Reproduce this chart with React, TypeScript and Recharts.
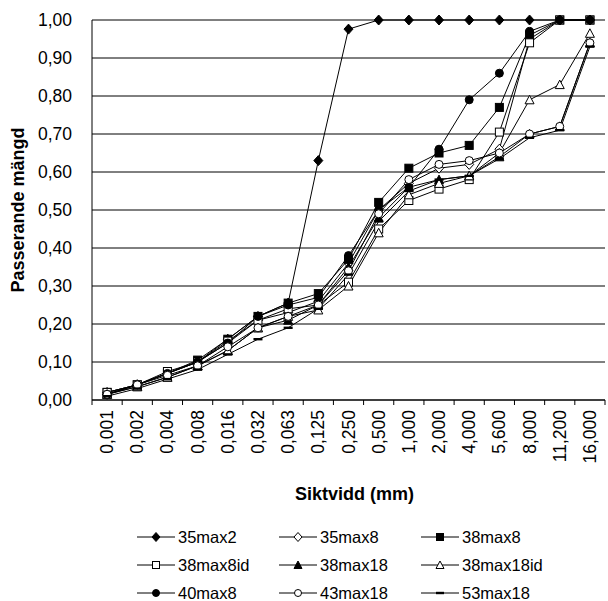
import { CartesianGrid, Label, Legend, Line, LineChart, XAxis, YAxis } from 'recharts';

const categories = [
  '0,001', '0,002', '0,004', '0,008', '0,016', '0,032', '0,063', '0,125', '0,250',
  '0,500', '1,000', '2,000', '4,000', '5,600', '8,000', '11,200', '16,000',
];
const yTicks = [0, 0.1, 0.2, 0.3, 0.4, 0.5, 0.6, 0.7, 0.8, 0.9, 1];

const s35max2 = [0.015, 0.04, 0.07, 0.1, 0.16, 0.22, 0.255, 0.63, 0.976, 1, 1, 1, 1, 1, 1, 1, 1];
const s35max8 = [0.02, 0.04, 0.07, 0.1, 0.15, 0.21, 0.23, 0.26, 0.36, 0.5, 0.57, 0.61, 0.62, 0.66, 0.95, 1, 1];
const s38max8 = [0.02, 0.04, 0.07, 0.105, 0.16, 0.22, 0.255, 0.28, 0.37, 0.52, 0.61, 0.65, 0.67, 0.77, 0.96, 1, 1];
const s38max8id = [0.02, 0.04, 0.075, 0.1, 0.155, 0.21, 0.24, 0.25, 0.31, 0.45, 0.525, 0.555, 0.58, 0.705, 0.94, 1, 1];
const s38max18 = [0.015, 0.035, 0.06, 0.09, 0.13, 0.19, 0.21, 0.25, 0.35, 0.48, 0.56, 0.58, 0.59, 0.64, 0.7, 0.72, 0.94];
const s38max18id = [0.015, 0.035, 0.06, 0.09, 0.13, 0.19, 0.22, 0.237, 0.3, 0.44, 0.54, 0.57, 0.59, 0.65, 0.79, 0.83, 0.965];
const s40max8 = [0.015, 0.04, 0.07, 0.1, 0.15, 0.22, 0.25, 0.27, 0.38, 0.5, 0.56, 0.66, 0.79, 0.86, 0.97, 1, 1];
const s43max18 = [0.015, 0.04, 0.065, 0.09, 0.14, 0.19, 0.22, 0.25, 0.34, 0.49, 0.58, 0.62, 0.63, 0.65, 0.7, 0.72, 0.94];
const s53max18 = [0.01, 0.03, 0.055, 0.08, 0.12, 0.16, 0.19, 0.24, 0.33, 0.47, 0.55, 0.58, 0.59, 0.635, 0.69, 0.71, 0.93];

type Shape = 'diamond' | 'square' | 'triangle' | 'circle' | 'dash';

const SERIES: { name: string; values: number[]; shape: Shape; filled: boolean }[] = [
  { name: '35max2', values: s35max2, shape: 'diamond', filled: true },
  { name: '35max8', values: s35max8, shape: 'diamond', filled: false },
  { name: '38max8', values: s38max8, shape: 'square', filled: true },
  { name: '38max8id', values: s38max8id, shape: 'square', filled: false },
  { name: '38max18', values: s38max18, shape: 'triangle', filled: true },
  { name: '38max18id', values: s38max18id, shape: 'triangle', filled: false },
  { name: '40max8', values: s40max8, shape: 'circle', filled: true },
  { name: '43max18', values: s43max18, shape: 'circle', filled: false },
  { name: '53max18', values: s53max18, shape: 'dash', filled: true },
];

const data = categories.map((cat, i) => {
  const row: Record<string, string | number> = { cat };
  SERIES.forEach((s) => (row[s.name] = s.values[i]));
  return row;
});

const FONT = '"Liberation Sans", Arial, sans-serif';
const W = 608;
const H = 601;
const PLOT_LEFT = 92;
const PLOT_RIGHT = 605;
const BAND = (PLOT_RIGHT - PLOT_LEFT) / categories.length;

function Marker({ cx, cy, shape, filled, size = 9 }: { cx: number; cy: number; shape: Shape; filled: boolean; size?: number }) {
  const fill = filled ? '#000' : '#fff';
  const h = size / 2;
  if (shape === 'diamond') {
    return <polygon points={`${cx},${cy - h - 0.5} ${cx + h},${cy} ${cx},${cy + h + 0.5} ${cx - h},${cy}`} fill={fill} stroke="#000" strokeWidth={1} />;
  }
  if (shape === 'square') {
    return <rect x={cx - h + 0.5} y={cy - h + 0.5} width={size - 1} height={size - 1} fill={fill} stroke="#000" strokeWidth={1} />;
  }
  if (shape === 'triangle') {
    return <polygon points={`${cx},${cy - h} ${cx + h},${cy + h - 0.5} ${cx - h},${cy + h - 0.5}`} fill={fill} stroke="#000" strokeWidth={1} />;
  }
  if (shape === 'circle') {
    return <circle cx={cx} cy={cy} r={h - 0.5} fill={fill} stroke="#000" strokeWidth={1} />;
  }
  return <rect x={cx - h} y={cy - 1.2} width={size} height={2.4} fill="#000" />;
}

function makeDot(shape: Shape, filled: boolean) {
  return (p: any) => <Marker key={`d-${p.index}`} cx={p.cx} cy={p.cy} shape={shape} filled={filled} />;
}

function SieveTick({ x, y, payload, index }: any) {
  const half = BAND / 2;
  return (
    <g>
      <line x1={x - half} x2={x - half} y1={y} y2={y + 5} stroke="#000" />
      {index === categories.length - 1 && <line x1={x + half} x2={x + half} y1={y} y2={y + 5} stroke="#000" />}
      <text
        x={x}
        y={y + 10}
        transform={`rotate(-90 ${x} ${y + 10})`}
        textAnchor="end"
        dominantBaseline="central"
        fontSize={17.5}
        fontFamily={FONT}
        fill="#000"
      >
        {payload.value}
      </text>
    </g>
  );
}

function LegendBox() {
  return (
    <div style={{ height: 80, paddingTop: 2, boxSizing: 'border-box', fontFamily: FONT, fontSize: 16.5 }}>
      {[0, 1, 2].map((r) => (
        <div key={r} style={{ display: 'flex', height: 28, alignItems: 'center', paddingLeft: 137 }}>
          {SERIES.slice(r * 3, r * 3 + 3).map((s) => (
            <div key={s.name} style={{ display: 'flex', alignItems: 'center', width: 142 }}>
              <svg width={38} height={12} style={{ marginRight: 3 }}>
                <line x1={0} x2={38} y1={6} y2={6} stroke="#000" strokeWidth={1} />
                <Marker cx={19} cy={6} shape={s.shape} filled={s.filled} size={8} />
              </svg>
              <span>{s.name}</span>
            </div>
          ))}
        </div>
      ))}
    </div>
  );
}

export default function App() {
  return (
    <div style={{ position: 'absolute', left: 0, top: 0, width: W, height: H, background: '#fff' }}>
      <LineChart width={W} height={H} data={data} margin={{ top: 20, right: W - PLOT_RIGHT, left: 0, bottom: 0 }}>
        <CartesianGrid horizontal vertical={false} stroke="#000" strokeWidth={1} />
        <XAxis
          dataKey="cat"
          height={121}
          interval={0}
          padding={{ left: BAND / 2, right: BAND / 2 }}
          tickLine={false}
          tickSize={0}
          tickMargin={0}
          tick={<SieveTick />}
          axisLine={{ stroke: '#000' }}
        >
          <Label
            content={({ viewBox }: any) => (
              <text
                x={viewBox.x + viewBox.width / 2 + 6}
                y={viewBox.y + 94}
                textAnchor="middle"
                dominantBaseline="central"
                fontSize={18}
                fontWeight="bold"
                fontFamily={FONT}
              >
                Siktvidd (mm)
              </text>
            )}
          />
        </XAxis>
        <YAxis
          width={PLOT_LEFT}
          domain={[0, 1]}
          ticks={yTicks}
          interval={0}
          tickFormatter={(v: number) => v.toFixed(2).replace('.', ',')}
          tick={{ fontSize: 17.5, fontFamily: FONT, fill: '#000' }}
          tickLine={false}
          tickMargin={14}
          axisLine={{ stroke: '#000' }}
        >
          <Label
            content={({ viewBox }: any) => (
              <text
                x={18}
                y={viewBox.y + viewBox.height / 2}
                transform={`rotate(-90 18 ${viewBox.y + viewBox.height / 2})`}
                textAnchor="middle"
                dominantBaseline="central"
                fontSize={18}
                fontWeight="bold"
                fontFamily={FONT}
              >
                Passerande mängd
              </text>
            )}
          />
        </YAxis>
        <YAxis yAxisId="frame" orientation="right" width={0} tick={false} tickLine={false} axisLine={{ stroke: '#808080' }} />
        <Legend verticalAlign="bottom" content={<LegendBox />} />
        {SERIES.map((s) => (
          <Line
            key={s.name}
            dataKey={s.name}
            name={s.name}
            stroke="#000"
            strokeWidth={1}
            dot={makeDot(s.shape, s.filled)}
            isAnimationActive={false}
          />
        ))}
      </LineChart>
    </div>
  );
}
